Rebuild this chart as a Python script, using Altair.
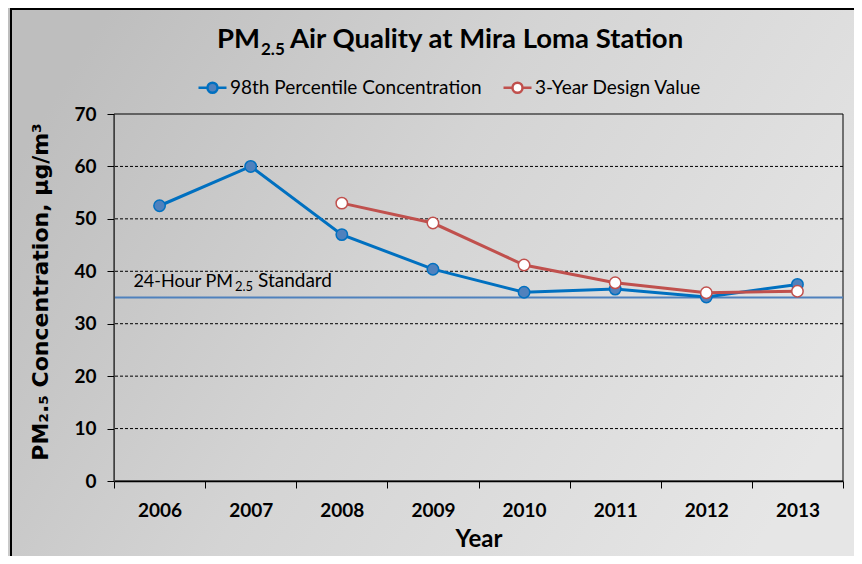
import altair as alt
import pandas as pd

# ---- data ----
years = ["2006", "2007", "2008", "2009", "2010", "2011", "2012", "2013"]
p98_values = [52.5, 60.0, 47.0, 40.4, 36.0, 36.6, 35.1, 37.5]
dv_years = ["2008", "2009", "2010", "2011", "2012", "2013"]
dv_values = [53.0, 49.2, 41.2, 37.8, 35.9, 36.2]
series = ["98th Percentile Concentration", "3-Year Design Value"]
line_colors = ["#0070c0", "#c0504d"]
fill_colors = ["#4f81bd", "#ffffff"]
standard_value = 35
y_ticks = [0, 10, 20, 30, 40, 50, 60, 70]
grid_ticks = [10, 20, 30, 40, 50, 60]

rows = [{"Year": y, "v": v, "s": series[0]} for y, v in zip(years, p98_values)]
rows += [{"Year": y, "v": v, "s": series[1]} for y, v in zip(dv_years, dv_values)]
df = pd.DataFrame(rows)
grid_df = pd.DataFrame({"g": grid_ticks})

W, H = 729, 367
PL, PT, PR, PB = 106, 106, 11, 75
FONT = "Lato"

legend_symbol = "M-1,0H-0.36M0.36,0H1M-0.36,0A0.36,0.36,0,1,1,0.36,0A0.36,0.36,0,1,1,-0.36,0Z"
legend_def = alt.Legend(
    title=None, orient="none", legendX=83, legendY=-42, direction="horizontal",
    symbolType=legend_symbol, symbolSize=784, symbolStrokeWidth=2.5,
    labelFont=FONT, labelFontSize=19, labelColor="black", labelOffset=2,
    labelLimit=500, columnPadding=16, padding=0,
)

x_enc = alt.X(
    "Year:O",
    scale=alt.Scale(type="band", domain=years, paddingInner=0, paddingOuter=0),
    bandPosition=0.5,
    axis=alt.Axis(
        title="Year", tickBand="extent", labelAngle=0, domainColor="black",
        domainWidth=1.5, tickColor="black", tickSize=7, labelFont=FONT,
        labelFontSize=19, labelFontWeight="bold", labelColor="black",
        labelPadding=13, titleFont=FONT, titleFontSize=24, titleFontWeight="bold",
        titleColor="black", titlePadding=7, grid=False, zindex=2,
    ),
)
y_scale = alt.Scale(domain=[0, 70], nice=False, zero=True)
y_enc = alt.Y(
    "v:Q", scale=y_scale,
    axis=alt.Axis(
        values=y_ticks, title="PM₂.₅ Concentration, µg/m³", grid=False,
        domainColor="#404040", tickColor="black", tickSize=7, labelFont=FONT,
        labelFontSize=19, labelFontWeight="bold", labelColor="black",
        labelPadding=11, titleFont="DejaVu Sans", titleFontSize=22,
        titleFontWeight="bold", titleColor="black", titleAngle=270,
        titleX=-74, titleY=H / 2 - 6, titleAlign="center", titleBaseline="middle",
        zindex=2,
    ),
)

stroke_enc = alt.Stroke("s:N", scale=alt.Scale(domain=series, range=line_colors), legend=legend_def)
fill_enc = alt.Fill("s:N", scale=alt.Scale(domain=series, range=fill_colors), legend=legend_def)

one = alt.Data(values=[{}])

bg = alt.Chart(one).mark_rect(
    fill=alt.LinearGradient(
        gradient="linear", x1=0, y1=0.3, x2=1, y2=0.7,
        stops=[alt.GradientStop(color="#bebebe", offset=0),
               alt.GradientStop(color="#d4d4d4", offset=0.45),
               alt.GradientStop(color="#e6e6e6", offset=1)],
    )
).encode(x=alt.value(-PL), x2=alt.value(W + PR), y=alt.value(-PT), y2=alt.value(H + PB))

frame = alt.Chart(one).mark_rect(filled=False, stroke="black", strokeWidth=2).encode(
    x=alt.value(-PL + 3), x2=alt.value(W + PR + 20), y=alt.value(-PT + 1), y2=alt.value(H + PB + 20)
)

grid = alt.Chart(grid_df).mark_rule(color="black", strokeWidth=1, strokeDash=[3, 2]).encode(
    y=alt.Y("g:Q", scale=y_scale)
)

border = alt.Chart(one).mark_rect(filled=False, stroke="black", strokeWidth=1).encode(
    x=alt.value(0), x2=alt.value(W), y=alt.value(0), y2=alt.value(H)
)

base = alt.Chart(df)
lines = base.mark_line(strokeWidth=3).encode(x=x_enc, y=y_enc, stroke=stroke_enc)
points = base.mark_point(shape="circle", size=130, strokeWidth=1.5, opacity=1, fillOpacity=1).encode(
    x=x_enc, y=y_enc, stroke=stroke_enc, fill=fill_enc
)

ref_rule = alt.Chart(one).mark_rule(color="#4f81bd", strokeWidth=2).encode(y=alt.datum(standard_value))

def txt(text, x, dy, size, weight="normal", align="left"):
    return alt.Chart(one).mark_text(
        text=text, font=FONT, fontSize=size, fontWeight=weight, color="black",
        align=align, baseline="alphabetic", dy=dy,
    ).encode(x=alt.value(x), y=alt.datum(standard_value))

ref_label = (txt("24-Hour PM", 119, -10.5, 18, align="right") + txt("2.5", 121, -6.5, 13)
             + txt("Standard", 144, -10.5, 19))

def ttl(text, x, y, size, align="left"):
    return alt.Chart(one).mark_text(
        text=text, font=FONT, fontSize=size, fontWeight="bold", color="black",
        align=align, baseline="alphabetic",
    ).encode(x=alt.value(x), y=alt.value(y))

title = (ttl("PM", 146, -66, 27.5, "right") + ttl("2.5", 147, -59, 17)
         + ttl("Air Quality at Mira Loma Station", 176, -66, 27.5))

chart = alt.layer(bg, frame, grid, border, ref_rule, lines, points, ref_label, title).properties(
    width=W, height=H,
    autosize=alt.AutoSizeParams(type="none"),
    padding={"left": PL, "top": PT, "right": PR, "bottom": PB},
).configure_view(stroke=None).configure(background="#c8c8c8")

chart.save("out.html", embed_options={"renderer": "svg", "actions": False})
